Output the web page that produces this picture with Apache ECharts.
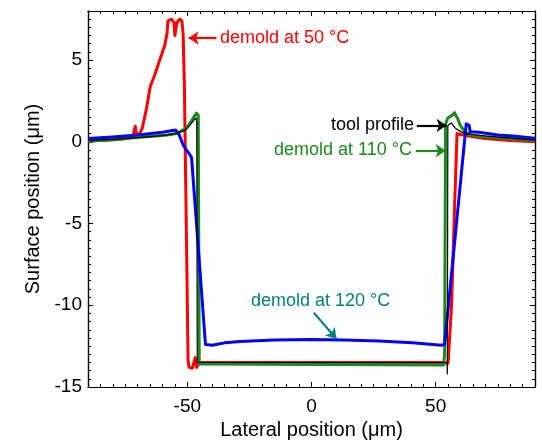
<!DOCTYPE html>
<html>
<head>
<meta charset="utf-8">
<script src="https://cdn.jsdelivr.net/npm/echarts@6/dist/echarts.min.js"></script>
<style>
  html, body { margin: 0; padding: 0; background: #fff; }
  #chart { width: 542px; height: 441px; }
</style>
</head>
<body>
<div id="chart"></div>
<script>
// tick labels
const xTickLabels = [-50, 0, 50];
const yTickLabels = [-15, -10, -5, 0, 5];

// profiles: [lateral position, surface position]
const demold50 = [[-90, 0.05], [-85, 0.08], [-80, 0.12], [-75, 0.18], [-72, 0.28], [-71, 0.95], [-70.2, 0.25],
  [-68.2, 0.8], [-66.5, 2.0], [-64.9, 3.4], [-63.1, 4.1], [-61.1, 5.0], [-59.1, 5.9], [-58.2, 6.6], [-57.8, 7.4],
  [-56.4, 7.5], [-55.4, 7.3], [-55.0, 6.5], [-54.2, 7.3], [-53.1, 7.5], [-52.2, 7.4], [-51.7, 6.6], [-51.2, 3.6],
  [-50.4, -5.4], [-49.7, -13.4], [-49.3, -13.8], [-48, -13.85], [-47.2, -13.8], [-46.8, -13.2], [-46.3, -13.8],
  [-45.6, -13.7], [-45, -13.5], [53, -13.5], [55, -13.55], [55.6, -13.6], [56.4, -10], [57.6, -4], [58.6, 0.5],
  [60, 0.45], [65, 0.3], [70, 0.2], [80, 0.08], [90, 0.0]];

const demold110 = [[-90, 0.05], [-80, 0.12], [-72, 0.25], [-65, 0.33], [-58, 0.42], [-54.4, 0.5], [-50.4, 0.82],
  [-48.3, 1.28], [-47, 1.6], [-46.3, 1.75], [-45.6, 1.6], [-45.2, -13.6], [-44.5, -13.65], [53.2, -13.65],
  [53.6, -13.0], [54, 1.1], [54.9, 1.45], [56.5, 1.6], [57.6, 1.78], [58.9, 1.4], [59.9, 1.0], [61.9, 0.6],
  [64, 0.42], [70, 0.3], [80, 0.18], [90, 0.08]];

const demold120 = [[-90, 0.2], [-80, 0.3], [-70, 0.42], [-60, 0.58], [-54.7, 0.72], [-53.2, 0.4], [-51.7, -0.2],
  [-49.3, -0.72], [-48.3, -0.95], [-42.7, -12.4], [-40, -12.45], [-35, -12.3], [-28.7, -12.22], [-15, -12.13],
  [0, -12.1], [13, -12.12], [27, -12.18], [40.7, -12.3], [52.2, -12.45], [53.6, -12.4], [62.3, 1.1], [63.5, 1.0],
  [63.9, 0.62], [67.4, 0.58], [75, 0.42], [81, 0.35], [90, 0.22]];

const toolProfile = [[-90, 0.08], [-80, 0.15], [-70, 0.25], [-60, 0.38], [-55, 0.5], [-51, 0.7], [-49, 1.0],
  [-47.5, 1.3], [-46.5, 1.45], [-46.2, 1.2], [-46, -13.5], [54.6, -13.5], [54.7, -14.2], [54.9, 1.0],
  [55.6, 0.95], [56.3, 1.15], [57.1, 1.1], [57.8, 0.85], [58.5, 0.9], [59.2, 0.7], [61.9, 0.5], [67.3, 0.4],
  [75, 0.28], [90, 0.1]];

const FONT = '"Liberation Sans", Arial, sans-serif';
const RED = '#ff0000', GREEN = '#1a8a1a', BLUE = '#0000ff', TEAL = '#008080';

// annotation arrows, in data coordinates
function arrow(from, to, color) {
  return [
    { coord: from, lineStyle: { color: color, width: 2.2, type: 'solid' }, itemStyle: { color: color } },
    { coord: to, itemStyle: { color: color } }
  ];
}

// major axes: nice ticks (splitNumber) so they fall on multiples of 50 / 5
// minor axes: fixed small interval counted from min
function xAxisDef(pos, minor, main) {
  return {
    type: 'value', position: pos, min: -90, max: 90,
    splitNumber: minor ? undefined : 4, interval: minor ? 5 : undefined,
    name: main ? 'Lateral position (\u03bcm)' : '',
    nameLocation: 'middle', nameGap: 31,
    nameTextStyle: { color: '#000', fontSize: 20, fontFamily: FONT },
    axisLine: { show: true, onZero: false, lineStyle: { color: '#000', width: 1.2 } },
    axisTick: { show: true, inside: true, length: minor ? 3 : 5, lineStyle: { color: '#000', width: 1 } },
    axisLabel: { show: main, customValues: xTickLabels, margin: 10, color: '#000', fontSize: 19, fontFamily: FONT },
    splitLine: { show: false }
  };
}

function yAxisDef(pos, minor, main) {
  return {
    type: 'value', position: pos, min: -15, max: 8,
    splitNumber: minor ? undefined : 5, interval: minor ? 0.5 : undefined,
    name: main ? 'Surface position (\u03bcm)' : '',
    nameLocation: 'middle', nameGap: 45,
    nameTextStyle: { color: '#000', fontSize: 20, fontFamily: FONT },
    axisLine: { show: true, onZero: false, lineStyle: { color: '#000', width: 1.2 } },
    axisTick: { show: true, inside: true, length: minor ? 3 : 5, lineStyle: { color: '#000', width: 1 } },
    axisLabel: { show: main, customValues: yTickLabels, margin: 6, color: '#000', fontSize: 19, fontFamily: FONT },
    splitLine: { show: false }
  };
}

function profile(name, data, color, width, arrows) {
  return {
    name: name, type: 'line', data: data, xAxisIndex: 0, yAxisIndex: 0,
    showSymbol: false, symbol: 'none',
    lineStyle: { color: color, width: width, join: 'round' },
    markLine: {
      silent: true, animation: false, symbol: ['none', 'arrow'], symbolSize: 10,
      label: { show: false }, data: arrows
    }
  };
}

const chart = echarts.init(document.getElementById('chart'));
chart.setOption({
  animation: false,
  backgroundColor: '#fff',
  grid: { left: 88, right: 7, top: 11, bottom: 54, containLabel: false, outerBoundsMode: 'none' },
  xAxis: [
    xAxisDef('bottom', false, true),
    xAxisDef('bottom', true, false),
    xAxisDef('top', false, false),
    xAxisDef('top', true, false)
  ],
  yAxis: [
    yAxisDef('left', false, true),
    yAxisDef('left', true, false),
    yAxisDef('right', false, false),
    yAxisDef('right', true, false)
  ],
  series: [
    profile('demold at 50 °C', demold50, RED, 3, [arrow([-38.3, 6.35], [-49.5, 6.35], RED)]),
    profile('demold at 110 °C', demold110, GREEN, 3, [arrow([42.0, -0.55], [54.0, -0.55], GREEN)]),
    profile('demold at 120 °C', demold120, BLUE, 3, [arrow([0.9, -10.45], [10.0, -12.05], TEAL)]),
    profile('tool profile', toolProfile, '#000', 1.2, [arrow([42.4, 1.0], [54.4, 1.0], '#000')])
  ],
  graphic: [
    { type: 'text', x: 220, y: 38, style: { text: 'demold at 50 °C', fill: RED, font: '18px ' + FONT, textAlign: 'left', textVerticalAlign: 'middle' } },
    { type: 'text', x: 414, y: 125, style: { text: 'tool profile', fill: '#000', font: '18px ' + FONT, textAlign: 'right', textVerticalAlign: 'middle' } },
    { type: 'text', x: 412, y: 150, style: { text: 'demold at 110 °C', fill: GREEN, font: '18px ' + FONT, textAlign: 'right', textVerticalAlign: 'middle' } },
    { type: 'text', x: 251, y: 301, style: { text: 'demold at 120 °C', fill: TEAL, font: '18px ' + FONT, textAlign: 'left', textVerticalAlign: 'middle' } }
  ]
});
</script>
</body>
</html>
